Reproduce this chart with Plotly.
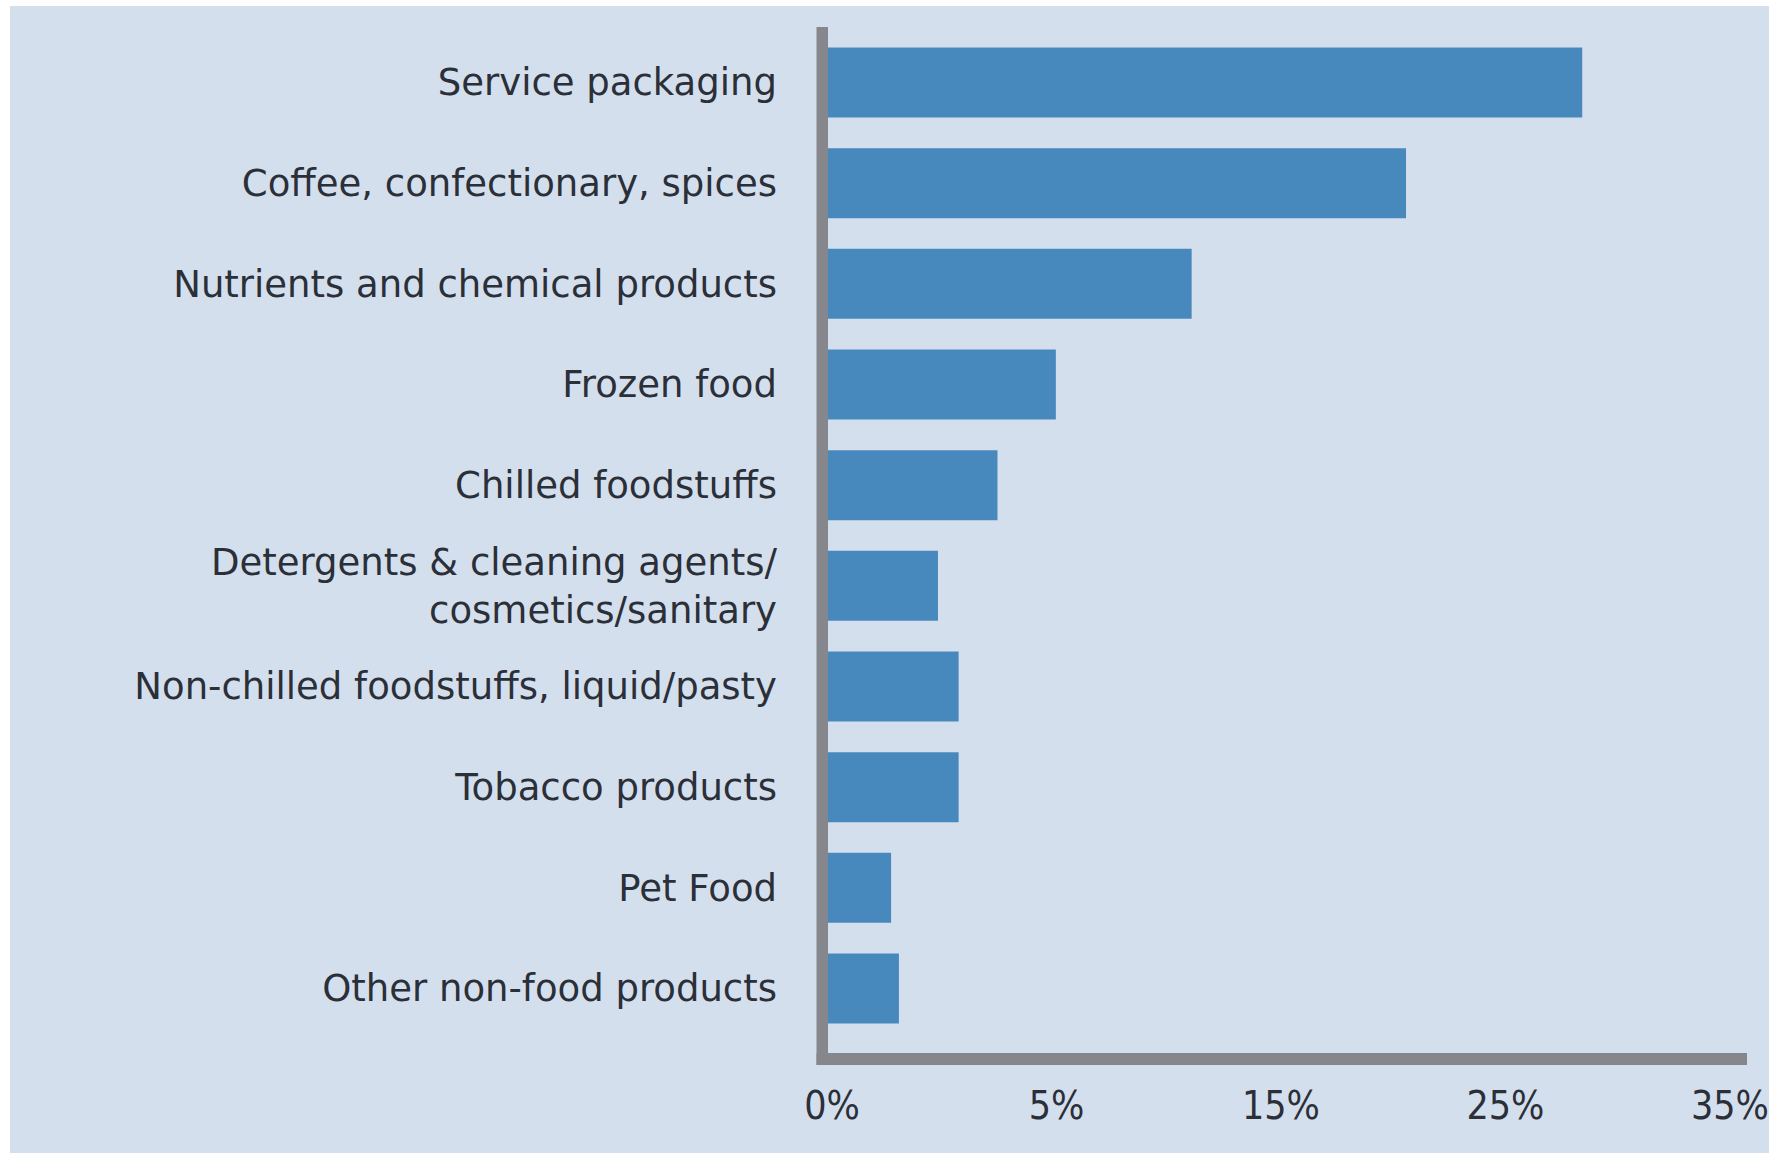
import plotly.graph_objects as go

categories = [
    "Service packaging",
    "Coffee, confectionary, spices",
    "Nutrients and chemical products",
    "Frozen food",
    "Chilled foodstuffs",
    "Detergents &amp; cleaning agents/<br>cosmetics/sanitary",
    "Non-chilled foodstuffs, liquid/pasty",
    "Tobacco products",
    "Pet Food",
    "Other non-food products",
]
values = [33.6, 25.75, 16.2, 10.15, 7.55, 4.9, 5.82, 5.82, 2.81, 3.16]
tick_values = [0, 10, 20, 30, 40]
tick_labels = ["0%", "5%", "15%", "25%", "35%"]

W, H = 1769, 1153
L, R, T, B = 828, 22, 27, 94
pw, ph = W - L - R, H - T - B

def px(x):
    return (x - L) / pw

def py(y):
    return (H - B - y) / ph

BG = "#d4dfee"
BAR = "#4889bd"
AX = "#85878c"
TXT = "#2b2f38"

fig = go.Figure(go.Bar(
    y=categories, x=values, orientation="h",
    marker=dict(color=BAR, line=dict(width=0)),
    hoverinfo="skip",
))

fig.update_layout(
    template="none",
    width=W, height=H,
    margin=dict(l=L, r=R, t=T, b=B, pad=0, autoexpand=False),
    paper_bgcolor="white",
    plot_bgcolor="rgba(0,0,0,0)",
    bargap=0.305,
    showlegend=False,
    font=dict(family="DejaVu Sans", color=TXT),
    xaxis=dict(
        range=[0, 40.94], tickvals=tick_values, ticktext=tick_labels,
        automargin=False,
        showgrid=False, zeroline=False, showline=False,
        ticks="", ticklabelstandoff=20, ticklabelshift=4,
        ticklabeloverflow="allow",
        tickfont=dict(family="Liberation Sans Narrow, DejaVu Sans Condensed, sans-serif", size=39, color=TXT),
    ),
    yaxis=dict(
        type="category", range=[9.70, -0.551],
        automargin=False,
        showgrid=False, zeroline=False, showline=False,
        ticks="", ticklabelstandoff=50,
        tickfont=dict(family="DejaVu Sans", size=37, color=TXT),
    ),
    shapes=[
        dict(type="rect", xref="paper", yref="paper", layer="below",
             x0=px(10), x1=px(W + 5), y0=py(6), y1=py(H + 5),
             fillcolor=BG, line=dict(width=0)),
        dict(type="rect", xref="paper", yref="paper", layer="above",
             x0=px(816.5), x1=px(828), y0=py(27), y1=py(1065),
             fillcolor=AX, line=dict(width=0)),
        dict(type="rect", xref="paper", yref="paper", layer="above",
             x0=px(816.5), x1=px(1747), y0=py(1053), y1=py(1065),
             fillcolor=AX, line=dict(width=0)),
    ],
)

fig.write_html("out.html")
